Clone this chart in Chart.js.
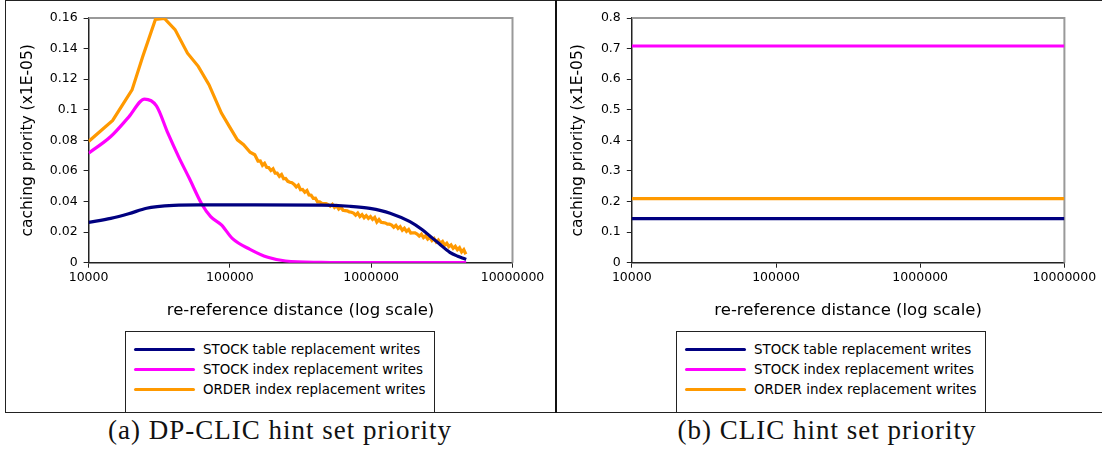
<!DOCTYPE html>
<html>
<head>
<meta charset="utf-8">
<script src="https://cdn.jsdelivr.net/npm/chart.js@4.4.0/dist/chart.umd.min.js"></script>
<style>
  html, body { margin: 0; padding: 0; background: #fff; }
  body { width: 1102px; height: 457px; position: relative; overflow: hidden; font-family: 'DejaVu Sans', sans-serif; }
  #frame { position: absolute; left: 5px; top: 0; width: 1200px; height: 411px; border-style: solid; border-color: #222; border-width: 1px 0 1.5px 1.5px; }
  #divider { position: absolute; left: 555px; top: 0; width: 2px; height: 413px; background: #111; }
  canvas { position: absolute; top: 0; }
  #chartA { left: 0; }
  #chartB { left: 557px; }
  .legend { position: absolute; top: 331px; width: 308px; height: 73px; border: 1px solid #222; padding-top: 7px; box-sizing: content-box; }
  .legend .item { height: 20px; display: flex; align-items: center; font-size: 13.4px; color: #000; white-space: nowrap; }
  .legend .swatch { width: 61px; height: 3px; margin: 0 8px 0 8px; border-radius: 2px; }
  #legA { left: 125px; }
  #legB { left: 676px; }
  .caption { position: absolute; top: 415px; width: 440px; text-align: center; font-family: 'Liberation Serif', serif; font-size: 27px; letter-spacing: 1px; color: #111; }
  #capA { left: 60px; }
  #capB { left: 607px; }
</style>
</head>
<body>
<div id="frame"></div>
<div id="divider"></div>
<canvas id="chartA" width="555" height="330"></canvas>
<canvas id="chartB" width="545" height="330"></canvas>
<div class="legend" id="legA"></div>
<div class="legend" id="legB"></div>
<div class="caption" id="capA">(a) DP-CLIC hint set priority</div>
<div class="caption" id="capB">(b) CLIC hint set priority</div>
<script>
const seriesNames = ['STOCK table replacement writes', 'STOCK index replacement writes', 'ORDER index replacement writes'];
const seriesColors = ['#000080', '#ff00ff', '#ff9900'];

const xTicks = [10000, 100000, 1000000, 10000000];
const yTicksA = [0, 0.02, 0.04, 0.06, 0.08, 0.1, 0.12, 0.14, 0.16];
const yTicksB = [0, 0.1, 0.2, 0.3, 0.4, 0.5, 0.6, 0.7, 0.8];

// (a) DP-CLIC
const stockTableX = [10000, 14350, 19200, 25700, 30600, 40000, 60000, 150000, 444000, 700000, 980000, 1360000, 1880000, 2300000, 2600000, 3020000, 3600000, 4100000, 4470000, 4700000];
const stockTableY = [0.0264, 0.029, 0.032, 0.0356, 0.0367, 0.0375, 0.0378, 0.0378, 0.0377, 0.0369, 0.0355, 0.0324, 0.0268, 0.0215, 0.0175, 0.0125, 0.0068, 0.0042, 0.0029, 0.0021];

const stockIndexX = [10000, 14350, 19200, 24900, 30200, 36400, 43300, 51600, 63200, 73100, 87100, 103900, 138800, 185500, 247900, 444000, 1000000, 4700000];
const stockIndexY = [0.0716, 0.0825, 0.0952, 0.107, 0.1026, 0.0847, 0.0694, 0.0552, 0.0384, 0.0301, 0.0247, 0.0159, 0.0087, 0.0035, 0.0011, 0.0002, 0, 0];

const orderIndexX = [10000, 14800, 20300, 24200, 29700, 34400, 40900, 50100, 59700, 71100, 87100, 100000, 113000, 125000, 139000,
  150000, 158000, 164000, 170000, 176000, 182000, 188000, 195000, 202000, 209000, 216000, 224000, 232000, 240000, 248000, 257000,
  266000, 275000, 285000, 295000, 305000, 316000, 327000, 339000, 351000, 363000, 376000, 389000, 403000, 417000,
  432000, 447000, 463000, 479000, 496000, 513000, 531000, 550000, 569000, 589000, 610000, 631000, 653000, 676000, 700000, 724000,
  750000, 776000, 803000, 832000, 861000, 891000, 922000, 955000, 988000, 1023000, 1059000, 1096000, 1135000, 1175000,
  1216000, 1259000, 1303000, 1349000, 1396000, 1445000, 1496000, 1549000, 1603000, 1660000, 1718000, 1778000, 1841000, 1905000,
  1972000, 2042000, 2113000, 2188000, 2265000, 2344000, 2427000, 2512000, 2600000, 2692000, 2786000, 2884000, 2985000, 3090000,
  3199000, 3311000, 3428000, 3548000, 3673000, 3802000, 3936000, 4074000, 4217000, 4365000, 4519000, 4677000];
const orderIndexY = [0.0793, 0.093, 0.113, 0.135, 0.159, 0.1597, 0.1524, 0.137, 0.1284, 0.1164, 0.0978, 0.0885, 0.0803, 0.0772, 0.0722,
  0.0706, 0.0665, 0.0666, 0.0637, 0.0650, 0.0624, 0.0622, 0.0603, 0.0614, 0.0586, 0.0586, 0.0565, 0.0577, 0.0549, 0.0551, 0.0532,
  0.0526, 0.0523, 0.0512, 0.0495, 0.0507, 0.0477, 0.0479, 0.0461, 0.0472, 0.0443, 0.0441, 0.0421, 0.0422, 0.0398,
  0.0398, 0.0388, 0.0387, 0.0386, 0.0380, 0.0370, 0.0382, 0.0361, 0.0372, 0.0351, 0.0364, 0.0343, 0.0341, 0.0339, 0.0332, 0.0330,
  0.0324, 0.0311, 0.0325, 0.0302, 0.0314, 0.0294, 0.0308, 0.0290, 0.0302, 0.0283, 0.0296, 0.0266, 0.0282, 0.0264,
  0.0262, 0.0260, 0.0252, 0.0252, 0.0246, 0.0232, 0.0244, 0.0224, 0.0236, 0.0212, 0.0225, 0.0205, 0.0217, 0.0194,
  0.0195, 0.0195, 0.0187, 0.0174, 0.0186, 0.0164, 0.0176, 0.0154, 0.0166, 0.0145, 0.0158, 0.0135, 0.0148, 0.0127,
  0.0139, 0.0114, 0.0127, 0.0105, 0.0116, 0.0094, 0.0107, 0.0085, 0.0098, 0.0070, 0.0085, 0.0055];

// (b) CLIC: constant priorities
const clicX = [10000, 10000000];
const clicStockTable = [0.144, 0.144];
const clicStockIndex = [0.7085, 0.7085];
const clicOrderIndex = [0.2096, 0.2096];

Chart.defaults.font.family = "'DejaVu Sans', sans-serif";
Chart.defaults.color = '#000';

function pts(xs, ys) {
  return xs.map((x, i) => ({ x: x, y: ys[i] }));
}

const plotFrame = {
  id: 'plotFrame',
  beforeDatasetsDraw(chart) {
    const { ctx, chartArea: a } = chart;
    ctx.save();
    ctx.strokeStyle = '#999';
    ctx.lineWidth = 2;
    ctx.beginPath();
    ctx.moveTo(a.left, a.top);
    ctx.lineTo(a.right, a.top);
    ctx.lineTo(a.right, a.bottom);
    ctx.stroke();
    ctx.restore();
  }
};

function makeOptions(yTicks, yWidth, padRight, yTitlePad) {
  return {
    responsive: false,
    animation: false,
    layout: { padding: { top: 18, right: padRight, left: 0, bottom: 0 } },
    plugins: { legend: { display: false }, tooltip: { enabled: false } },
    elements: { point: { radius: 0 }, line: { borderWidth: 3.2 } },
    scales: {
      x: {
        type: 'logarithmic',
        min: 10000,
        max: 10000000,
        afterBuildTicks: s => { s.ticks = xTicks.map(v => ({ value: v })); },
        afterFit: s => { s.height = 67.3; },
        ticks: { callback: v => String(v), font: { size: 12.5 }, color: '#000', padding: 3, maxRotation: 0, autoSkip: false },
        grid: { drawOnChartArea: false, tickLength: 5, color: '#222' },
        border: { color: '#222', width: 1.5 },
        title: { display: true, text: 're-reference distance (log scale)', font: { size: 16.5 }, color: '#000', padding: { top: 0, bottom: 9 } }
      },
      y: {
        min: 0,
        max: yTicks[yTicks.length - 1],
        afterBuildTicks: s => { s.ticks = yTicks.map(v => ({ value: v })); },
        afterFit: s => { s.width = yWidth; },
        ticks: { callback: v => String(v), font: { size: 12.5 }, color: '#000', padding: 6 },
        grid: { drawOnChartArea: false, tickLength: 5, color: '#222' },
        border: { color: '#222', width: 1.5 },
        title: { display: true, text: 'caching priority (x1E-05)', font: { size: 15.5 }, color: '#000', padding: { top: yTitlePad, bottom: 0 } }
      }
    }
  };
}

new Chart(document.getElementById('chartA'), {
  type: 'line',
  data: {
    datasets: [
      { label: seriesNames[0], data: pts(stockTableX, stockTableY), borderColor: seriesColors[0], cubicInterpolationMode: 'monotone' },
      { label: seriesNames[1], data: pts(stockIndexX, stockIndexY), borderColor: seriesColors[1], cubicInterpolationMode: 'monotone' },
      { label: seriesNames[2], data: pts(orderIndexX, orderIndexY), borderColor: seriesColors[2] }
    ]
  },
  options: makeOptions(yTicksA, 88.6, 42.5, 18.2),
  plugins: [plotFrame]
});

new Chart(document.getElementById('chartB'), {
  type: 'line',
  data: {
    datasets: [
      { label: seriesNames[0], data: pts(clicX, clicStockTable), borderColor: seriesColors[0] },
      { label: seriesNames[1], data: pts(clicX, clicStockIndex), borderColor: seriesColors[1] },
      { label: seriesNames[2], data: pts(clicX, clicOrderIndex), borderColor: seriesColors[2] }
    ]
  },
  options: makeOptions(yTicksB, 74.8, 37.6, 12.1),
  plugins: [plotFrame]
});

['legA', 'legB'].forEach(id => {
  const box = document.getElementById(id);
  seriesNames.forEach((name, i) => {
    const row = document.createElement('div');
    row.className = 'item';
    const sw = document.createElement('span');
    sw.className = 'swatch';
    sw.style.background = seriesColors[i];
    const txt = document.createElement('span');
    txt.textContent = name;
    row.appendChild(sw);
    row.appendChild(txt);
    box.appendChild(row);
  });
});
</script>
</body>
</html>
